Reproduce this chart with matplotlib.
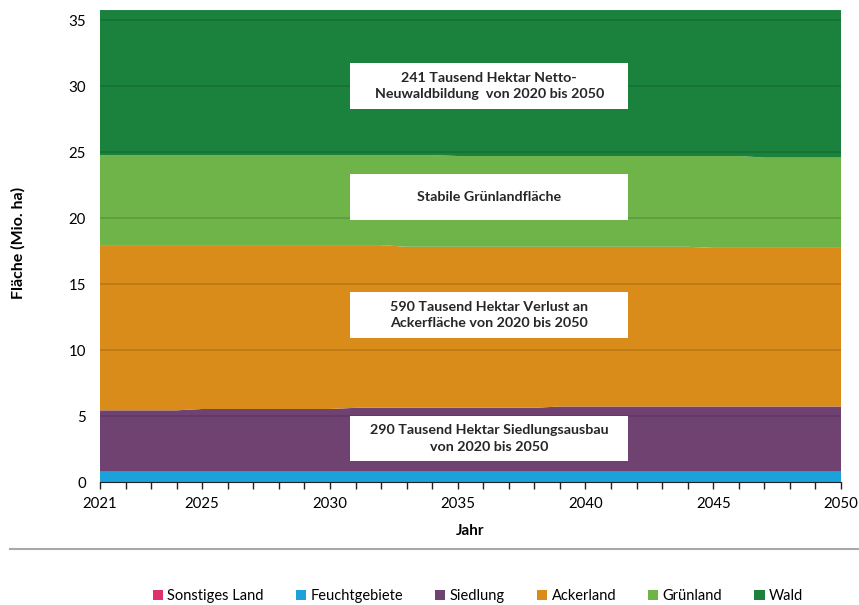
import numpy as np
import matplotlib
matplotlib.use("Agg")
import matplotlib.pyplot as plt
from matplotlib.patches import Rectangle
from matplotlib.lines import Line2D

plt.rcParams['font.family'] = ['Lato', 'DejaVu Sans']

years = list(range(2021, 2051))

# Flächen in Mio. ha, von unten nach oben gestapelt
sonstiges = [0.03, 0.03, 0.03, 0.03, 0.03, 0.03, 0.03, 0.03, 0.03, 0.03,
             0.03, 0.03, 0.03, 0.03, 0.03, 0.03, 0.03, 0.03, 0.03, 0.03,
             0.03, 0.03, 0.03, 0.03, 0.03, 0.03, 0.03, 0.03, 0.03, 0.03]
feucht = [0.80, 0.80, 0.80, 0.80, 0.80, 0.80, 0.80, 0.80, 0.80, 0.80,
          0.80, 0.80, 0.80, 0.80, 0.80, 0.80, 0.80, 0.80, 0.80, 0.80,
          0.80, 0.80, 0.80, 0.80, 0.80, 0.80, 0.80, 0.80, 0.80, 0.80]
siedlung = [4.60, 4.60, 4.60, 4.60, 4.70, 4.70, 4.70, 4.70, 4.70, 4.70,
            4.79, 4.79, 4.79, 4.79, 4.79, 4.79, 4.79, 4.79, 4.89, 4.89,
            4.89, 4.89, 4.89, 4.89, 4.89, 4.89, 4.89, 4.89, 4.89, 4.89]
acker = [12.52, 12.52, 12.52, 12.52, 12.42, 12.42, 12.42, 12.42, 12.42, 12.42,
         12.33, 12.33, 12.20, 12.20, 12.20, 12.20, 12.20, 12.20, 12.10, 12.10,
         12.10, 12.10, 12.10, 12.10, 12.02, 12.02, 12.02, 12.02, 12.02, 12.02]
gruen = [6.82, 6.82, 6.82, 6.82, 6.82, 6.82, 6.82, 6.82, 6.82, 6.82,
         6.82, 6.82, 6.95, 6.95, 6.88, 6.88, 6.88, 6.88, 6.88, 6.88,
         6.88, 6.88, 6.88, 6.88, 6.96, 6.96, 6.84, 6.84, 6.84, 6.84]
wald = [10.99, 10.99, 10.99, 10.99, 10.99, 10.99, 10.99, 10.99, 10.99, 10.99,
        10.99, 10.99, 10.99, 10.99, 11.06, 11.06, 11.06, 11.06, 11.06, 11.06,
        11.06, 11.06, 11.06, 11.06, 11.06, 11.06, 11.18, 11.18, 11.18, 11.18]

labels = ['Sonstiges Land', 'Feuchtgebiete', 'Siedlung', 'Ackerland', 'Grünland', 'Wald']
colors = ['#E0306E', '#1BA2DB', '#704272', '#DA8C1A', '#6EB448', '#1B823E']

boxes = [
    (30.0, '241 Tausend Hektar Netto-\nNeuwaldbildung  von 2020 bis 2050'),
    (21.6, 'Stabile Grünlandfläche'),
    (12.65, '590 Tausend Hektar Verlust an\nAckerfläche von 2020 bis 2050'),
    (3.3, '290 Tausend Hektar Siedlungsausbau\nvon 2020 bis 2050'),
]

fig = plt.figure(figsize=(8.59, 6.05), dpi=100)
ax = fig.add_axes([100 / 859, 1 - 482 / 605, 741 / 859, 472.5 / 605])

ax.stackplot(years, sonstiges, feucht, siedlung, acker, gruen, wald,
             colors=colors, labels=labels, linewidth=0)

ax.set_xlim(2021, 2050)
ax.set_ylim(0, 35.8)
ax.set_yticks([0, 5, 10, 15, 20, 25, 30, 35])
ax.set_xticks([2021, 2025, 2030, 2035, 2040, 2045, 2050])
ax.set_xticks(years, minor=True)
ax.tick_params(axis='x', which='both', length=5, width=1, color='#222222',
               labelsize=10.8, pad=6)
ax.tick_params(axis='y', length=0, labelsize=10.8, pad=10)
for s in ['left', 'top', 'right']:
    ax.spines[s].set_visible(False)
ax.spines['bottom'].set_color('#222222')
ax.spines['bottom'].set_zorder(5)

# Gitterlinien über den Flächen
for yv in [5, 10, 15, 20, 25, 30, 35]:
    ax.axhline(yv, color='black', alpha=0.13, lw=1.3, zorder=3)

bx0, bx1, bh = 2030.8, 2041.67, 3.45
for yc, txt in boxes:
    ax.add_patch(Rectangle((bx0, yc - bh / 2), bx1 - bx0, bh, facecolor='white',
                           edgecolor='none', zorder=4))
    ax.text((bx0 + bx1) / 2, yc, txt, ha='center', va='center', fontsize=10.3,
            fontweight='bold', color='#262626', zorder=5, linespacing=1.45)

fig.text(470 / 859, 1 - 531 / 605, 'Jahr', ha='center', va='center',
         fontsize=11, fontweight='bold')
fig.text(18 / 859, 1 - 243 / 605, 'Fläche (Mio. ha)', ha='center', va='center',
         rotation=90, fontsize=11.5, fontweight='bold')

fig.add_artist(Line2D([10 / 859, 1], [1 - 549 / 605, 1 - 549 / 605],
                      color='#a8a8a8', lw=1.5))

handles = [Rectangle((0, 0), 1, 1, facecolor=c, edgecolor='none') for c in colors]
fig.legend(handles, labels, loc='center', bbox_to_anchor=(478 / 859, 1 - 596 / 605),
           ncol=6, frameon=False, fontsize=10.5, handlelength=0.7, handleheight=0.7,
           handletextpad=0.3, columnspacing=2.2)

fig.savefig('out.png', dpi=100)
